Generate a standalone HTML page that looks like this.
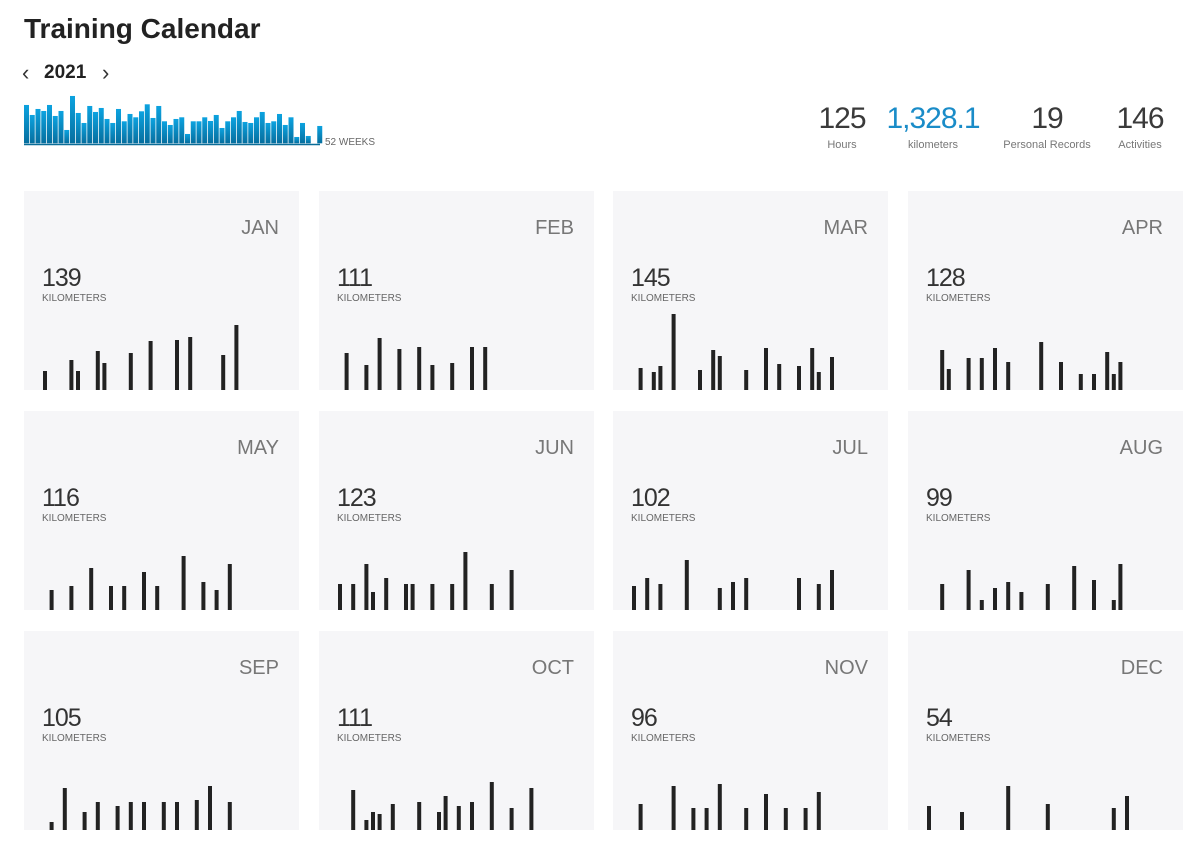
<!DOCTYPE html>
<html><head><meta charset="utf-8">
<style>
body{margin:0;width:1200px;height:843px;background:#fff;font-family:"Liberation Sans",sans-serif;position:relative;overflow:hidden;color:#222}
.abs{position:absolute}
h1{position:absolute;left:24px;top:13px;margin:0;font-size:28px;font-weight:bold;color:#222}
.stat{position:absolute;top:101px;text-align:center}
.stat .n{font-size:30px;font-weight:normal;color:#3a3a3a;line-height:36px;letter-spacing:-1px}
.stat .l{font-size:11px;color:#777;margin-top:2px}
.card{position:absolute;width:275px;height:199px;background:#f6f6f8}
.card .m{position:absolute;right:20px;top:26px;font-size:20px;color:#777}
.card .v{position:absolute;left:18px;top:73px;font-size:25px;color:#333;letter-spacing:-1px}
.card .u{position:absolute;left:18px;top:102px;font-size:10px;color:#666}
</style></head><body>
<h1>Training Calendar</h1>
<div class="abs" style="left:22px;top:60px;font-size:22px;color:#333">‹</div>
<div class="abs" style="left:44px;top:62px;font-size:19px;font-weight:bold">2021</div>
<div class="abs" style="left:102px;top:60px;font-size:22px;color:#333">›</div>
<svg id="weekly" class="abs" style="left:0;top:0" width="400" height="160">
<defs><linearGradient id="g" x1="0" y1="0" x2="0" y2="1"><stop offset="0" stop-color="#0ca3e0"/><stop offset="1" stop-color="#066e9e"/></linearGradient></defs>
<line x1="24" x2="320" y1="144.5" y2="144.5" stroke="#0a6d98" stroke-width="1.5"/>
<text x="325" y="145" font-size="10" fill="#666" font-family="Liberation Sans">52 WEEKS</text>
</svg>
<div class="stat" style="left:812px;width:60px"><div class="n">125</div><div class="l">Hours</div></div>
<div class="stat" style="left:878px;width:110px"><div class="n" style="color:#1a8cc8">1,328.1</div><div class="l">kilometers</div></div>
<div class="stat" style="left:996px;width:102px"><div class="n">19</div><div class="l">Personal Records</div></div>
<div class="stat" style="left:1110px;width:60px"><div class="n">146</div><div class="l">Activities</div></div>
<div id="cards"></div>
<script>
const weekTops=[45,75,57,63,45,78,63,120,18,69,99,48,66,54,87,99,57,94,72,82,64,43,84,48,94,105,87,82,132,94,94,82,93,75,114,94,82,63,96,99,82,66,99,94,72,105,82,141,99,138,160,108];
const weekKm=weekTops.map(t=>(160-t)/3);
const months=["JAN","FEB","MAR","APR","MAY","JUN","JUL","AUG","SEP","OCT","NOV","DEC"];
const monthKm=[139,111,145,128,116,123,102,99,105,111,96,54];
const days=[[0,4,5,8,9,13,16,20,22,27,29],[1,4,6,9,12,14,17,20,22],[1,3,4,6,10,12,13,17,20,22,25,27,28,30],[2,3,6,8,10,12,17,20,23,25,27,28,29],[1,4,7,10,12,15,17,21,24,26,28],[0,2,4,5,7,10,11,14,17,19,23,26],[0,2,4,8,13,15,17,25,28,30],[2,6,8,10,12,14,18,22,25,28,29],[1,3,6,8,11,13,15,18,20,23,25,28],[2,4,5,6,8,12,15,16,18,20,23,26,29],[1,6,9,11,13,17,20,23,26,28],[0,5,12,18,28,30]];
const dayKm=[[19,30,19,39,27,37,49,50,53,35,65],[37,25,52,41,43,25,27,43,43],[22,18,24,76,20,40,34,20,42,26,24,42,18,33],[40,21,32,32,42,28,48,28,16,16,38,16,28],[20,24,42,24,24,38,24,54,28,20,46],[26,26,46,18,32,26,26,26,26,58,26,40],[24,32,26,50,22,28,32,32,26,40],[26,40,10,22,28,18,26,44,30,10,46],[8,42,18,28,24,28,28,28,28,30,44,28],[40,10,18,16,26,28,18,34,24,28,48,22,42],[26,44,22,22,46,22,36,22,22,38],[24,18,44,26,22,34]];
const NS="http://www.w3.org/2000/svg";
const wk=document.getElementById('weekly');
const wx=i=>24+i*5.75, wy=v=>143.3-v;
weekKm.forEach((v,i)=>{if(v<=0)return;const r=document.createElementNS(NS,'rect');
r.setAttribute('x',wx(i));r.setAttribute('y',wy(v));r.setAttribute('width',5);r.setAttribute('height',v);r.setAttribute('fill','url(#g)');


wk.appendChild(r);});
const cards=document.getElementById('cards');
const colX=[24,319,613,908], rowY=[191,411,631];
months.forEach((m,k)=>{
const c=document.createElement('div');c.className='card';


c.style.left=colX[k%4]+'px';c.style.top=rowY[Math.floor(k/4)]+'px';
c.innerHTML='<div class="m">'+m+'</div><div class="v">'+monthKm[k]+'</div><div class="u">KILOMETERS</div>';
const s=document.createElementNS(NS,'svg');s.setAttribute('width',275);s.setAttribute('height',199);s.style.position='absolute';s.style.left='0';s.style.top='0';
const dx=d=>19+d*6.6, dy=v=>199-v;
days[k].forEach((d,i)=>{const v=dayKm[k][i];const r=document.createElementNS(NS,'rect');
r.setAttribute('x',dx(d));r.setAttribute('y',dy(v));r.setAttribute('width',4);r.setAttribute('height',v);r.setAttribute('fill','#222');


s.appendChild(r);});
c.appendChild(s);cards.appendChild(c);});
</script>
</body></html>
